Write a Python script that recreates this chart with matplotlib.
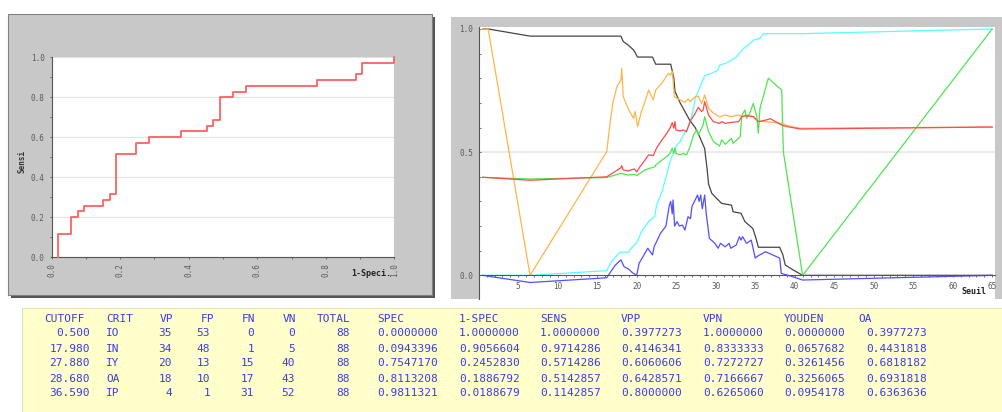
import numpy as np
import matplotlib
matplotlib.use("Agg")
import matplotlib.pyplot as plt
from matplotlib.patches import Rectangle

# ROC curve (1-Spec, Sens), drawn as steps
roc_fpr = [0.0189, 0.0566, 0.0755, 0.0943, 0.1509, 0.1698, 0.1887, 0.2453, 0.2830, 0.3774,
           0.4528, 0.4717, 0.4906, 0.5283, 0.5660, 0.7736, 0.8868, 0.9057, 1.0, 1.0]
roc_tpr = [0.0, 0.114, 0.200, 0.229, 0.257, 0.286, 0.314, 0.514, 0.571, 0.600,
           0.629, 0.657, 0.686, 0.800, 0.829, 0.857, 0.886, 0.914, 0.971, 1.0]

# criteria vs threshold (Seuil)
sens_t = [0.5, 1.2, 6.5, 18.0, 18.3, 18.9, 19.6, 20.1, 22.0, 22.4, 24.3, 24.5, 24.7, 24.85, 25.5,
          26.1, 26.7, 27.4, 28.0, 28.6, 28.9, 29.1, 29.5, 30.1, 30.75, 32.0, 32.2, 33.2, 33.7,
          34.7, 35.1, 35.4, 38.1, 38.5, 38.8, 39.8, 41.0, 65.0]
sens_v = [1.0, 1.0, 0.971, 0.971, 0.949, 0.935, 0.915, 0.886, 0.886, 0.857, 0.857, 0.83, 0.80, 0.746,
          0.70, 0.665, 0.63, 0.60, 0.56, 0.515, 0.434, 0.37, 0.333, 0.313, 0.292, 0.285, 0.258,
          0.252, 0.218, 0.19, 0.15, 0.114, 0.114, 0.083, 0.042, 0.022, 0.0, 0.0]

spec_t = [0.5, 6.5, 16.2, 16.8, 17.9, 18.9, 19.4, 20.0, 20.6, 21.5, 22.3, 22.5, 23.2, 23.8, 24.2,
          24.6, 24.85, 25.5, 25.9, 26.5, 26.75, 27.2, 27.4, 27.9, 28.6, 29.5, 30.3, 30.5, 31.2,
          31.8, 32.65, 33.1, 33.5, 33.9, 34.3, 34.8, 35.6, 36.0, 36.6, 41.0, 65.0]
spec_v = [0.0, 0.0, 0.019, 0.056, 0.094, 0.094, 0.113, 0.132, 0.177, 0.218, 0.24, 0.283, 0.34, 0.41,
          0.46, 0.495, 0.52, 0.543, 0.57, 0.6, 0.62, 0.68, 0.72, 0.755, 0.811, 0.82, 0.834, 0.854,
          0.86, 0.87, 0.888, 0.906, 0.92, 0.93, 0.94, 0.955, 0.962, 0.98, 0.981, 0.981, 1.0]

youden_t = [0.5, 6.5, 16.2, 17.25, 18.0, 18.4, 19.0, 19.44, 20.0, 20.3, 20.8, 21.4, 22.0, 22.2, 23.0,
            23.7, 24.1, 24.3, 24.5, 24.6, 24.8, 25.1, 25.4, 25.8, 26.1, 26.5, 26.8, 27.0, 27.4,
            27.7, 27.9, 28.1, 28.3, 28.6, 28.8, 29.2, 29.9, 30.3, 30.6, 31.2, 31.7, 31.9, 32.6,
            33.0, 33.2, 33.4, 33.9, 34.5, 35.0, 35.2, 36.3, 38.1, 38.3, 39.7, 41.0, 65.0]
youden_v = [0.0, -0.029, -0.01, 0.04, 0.063, 0.035, 0.025, 0.011, 0.0, 0.049, 0.076, 0.11, 0.083,
            0.116, 0.17, 0.2, 0.28, 0.30, 0.25, 0.306, 0.2, 0.218, 0.2, 0.204, 0.184, 0.238, 0.23,
            0.28, 0.306, 0.326, 0.30, 0.326, 0.27, 0.326, 0.25, 0.15, 0.13, 0.11, 0.13, 0.116,
            0.13, 0.11, 0.123, 0.157, 0.143, 0.157, 0.13, 0.143, 0.07, 0.076, 0.096, 0.07, 0.008,
            -0.005, -0.019, 0.0]

oa_t = [0.5, 6.5, 16.2, 17.25, 18.0, 18.1, 18.3, 18.9, 19.7, 20.0, 20.4, 21.05, 21.5, 22.1, 22.5,
        23.2, 23.8, 24.2, 24.5, 24.7, 24.85, 24.97, 25.5, 25.9, 26.3, 26.75, 27.4, 27.8, 28.2,
        28.4, 28.6, 29.1, 29.7, 30.5, 30.75, 31.2, 32.0, 32.9, 33.3, 33.9, 34.76, 35.4, 36.45,
        36.9, 38.35, 39.0, 40.7, 65.0]
oa_v = [0.398, 0.386, 0.40, 0.421, 0.437, 0.445, 0.428, 0.424, 0.432, 0.42, 0.44, 0.468, 0.489,
        0.486, 0.516, 0.55, 0.576, 0.597, 0.62, 0.597, 0.624, 0.59, 0.586, 0.59, 0.583, 0.624,
        0.658, 0.682, 0.665, 0.67, 0.705, 0.65, 0.624, 0.617, 0.624, 0.617, 0.621, 0.624, 0.644,
        0.648, 0.644, 0.624, 0.631, 0.636, 0.61, 0.604, 0.594, 0.602]

vpn_t = [0.5, 1.2, 6.5, 16.2, 16.6, 17.0, 17.5, 18.0, 18.1, 18.3, 18.9, 19.6, 19.8, 20.1, 20.6,
         21.05, 21.5, 22.1, 22.4, 23.2, 24.0, 24.3, 24.5, 24.6, 24.76, 25.5, 26.1, 26.5, 26.75,
         27.4, 27.8, 28.2, 28.4, 28.6, 29.1, 29.7, 30.5, 31.2, 32.0, 32.9, 33.3, 33.9, 34.76,
         35.4, 36.45, 38.35, 39.0, 40.7, 65.0]
vpn_v = [1.0, 1.0, 0.0, 0.502, 0.61, 0.705, 0.766, 0.793, 0.84, 0.725, 0.678, 0.637, 0.665, 0.604,
         0.665, 0.705, 0.752, 0.712, 0.752, 0.78, 0.82, 0.813, 0.827, 0.793, 0.725, 0.712, 0.702,
         0.716, 0.705, 0.725, 0.727, 0.698, 0.712, 0.732, 0.678, 0.658, 0.644, 0.651, 0.644,
         0.651, 0.644, 0.651, 0.644, 0.624, 0.624, 0.617, 0.608, 0.597, 0.602]

vpp_t = [0.5, 6.5, 16.2, 17.25, 18.0, 18.9, 19.7, 20.0, 20.4, 21.05, 22.3, 22.4, 23.2, 23.8, 24.2,
         24.5, 24.7, 24.85, 24.97, 25.5, 25.9, 26.3, 26.75, 27.2, 27.6, 27.8, 28.2, 28.4, 28.6,
         29.1, 29.7, 30.5, 30.75, 31.2, 32.0, 32.2, 33.1, 33.3, 33.7, 33.9, 34.3, 34.76, 35.2,
         35.4, 35.6, 36.66, 38.35, 38.56, 41.0, 65.0]
vpp_v = [0.398, 0.391, 0.397, 0.407, 0.414, 0.407, 0.41, 0.405, 0.414, 0.428, 0.441, 0.448, 0.468,
         0.482, 0.495, 0.516, 0.495, 0.516, 0.495, 0.489, 0.495, 0.489, 0.522, 0.57, 0.59, 0.57,
         0.597, 0.61, 0.644, 0.583, 0.543, 0.525, 0.55, 0.532, 0.556, 0.536, 0.563, 0.65, 0.671,
         0.637, 0.658, 0.698, 0.644, 0.576, 0.678, 0.80, 0.752, 0.502, 0.0, 1.0]

# table under the charts
headers = ["CUTOFF", "CRIT", "VP", "FP", "FN", "VN", "TOTAL", "SPEC", "1-SPEC", "SENS",
           "VPP", "VPN", "YOUDEN", "OA"]
cutoff = [0.5, 17.98, 27.88, 28.68, 36.59]
crit = ["IO", "IN", "IY", "OA", "IP"]
vp = [35, 34, 20, 18, 4]
fp = [53, 48, 13, 10, 1]
fn = [0, 1, 15, 17, 31]
vn = [0, 5, 40, 43, 52]
total = [88, 88, 88, 88, 88]
spec = [0.0, 0.0943396, 0.7547170, 0.8113208, 0.9811321]
one_spec = [1.0, 0.9056604, 0.2452830, 0.1886792, 0.0188679]
sens = [1.0, 0.9714286, 0.5714286, 0.5142857, 0.1142857]
vpp = [0.3977273, 0.4146341, 0.6060606, 0.6428571, 0.8]
vpn = [1.0, 0.8333333, 0.7272727, 0.7166667, 0.6265060]
youden = [0.0, 0.0657682, 0.3261456, 0.3256065, 0.0954178]
oa = [0.3977273, 0.4431818, 0.6818182, 0.6931818, 0.6363636]

plt.rcParams["font.family"] = "DejaVu Sans Mono"

W, H = 1003, 412
fig = plt.figure(figsize=(W / 100, H / 100), dpi=100)


def box(l, t, r, b):
    return [l / W, 1 - b / H, (r - l) / W, (b - t) / H]


# background panels
bg = fig.add_axes([0, 0, 1, 1])
bg.set_xlim(0, W)
bg.set_ylim(H, 0)
bg.axis("off")
bg.add_patch(Rectangle((11.5, 17), 424, 281, fc="#555555", ec="none"))
bg.add_patch(Rectangle((8.5, 14), 424, 281, fc="#c8c8c8", ec="#808080", lw=0.8))
bg.add_patch(Rectangle((450.7, 17), 553, 282, fc="#c8c8c8", ec="none"))
bg.add_patch(Rectangle((21.7, 307.7), 982, 105, fc="#ffffcc", ec="#e2e2b4", lw=0.8))

# table text
tcol = "#3a3aee"
hx = [44, 106, 160, 201, 242, 283, 317, 377, 459, 540, 621, 703, 784, 858]
for x, h in zip(hx, headers):
    bg.text(x, 319.5, h, ha="left", va="center", fontsize=8, color=tcol)
row_y = [333.5, 348.5, 363.5, 378.5, 393.5]
for i, y in enumerate(row_y):
    bg.text(90, y, f"{cutoff[i]:.3f}", ha="right", va="center", fontsize=8, color=tcol)
    bg.text(106, y, crit[i], ha="left", va="center", fontsize=8, color=tcol)
    for x, col in zip([172, 210, 254, 295, 350], [vp, fp, fn, vn, total]):
        bg.text(x, y, str(col[i]), ha="right", va="center", fontsize=8, color=tcol)
    for x, col in zip([377, 459, 540, 621, 703, 784, 866],
                      [spec, one_spec, sens, vpp, vpn, youden, oa]):
        bg.text(x, y, f"{col[i]:.7f}", ha="left", va="center", fontsize=8, color=tcol)

tick_col = "#5a5a5a"

# left: ROC curve
ax1 = fig.add_axes(box(51.7, 57.3, 394.3, 257.3))
ax1.step(roc_fpr, roc_tpr, where="pre", color="#ff6060", lw=1.3, clip_on=False, zorder=3)
ax1.set_xlim(0, 1)
ax1.set_ylim(0, 1)
ax1.set_xticks(np.arange(0, 1.01, 0.2))
ax1.set_xticklabels([f"{v:.1f}" for v in np.arange(0, 1.01, 0.2)], rotation=90)
ax1.set_yticks(np.arange(0, 1.01, 0.2))
ax1.set_yticklabels([f"{v:.1f}" for v in np.arange(0, 1.01, 0.2)])
ax1.set_xticks(np.arange(0, 1.01, 0.1), minor=True)
ax1.set_yticks(np.arange(0, 1.01, 0.1), minor=True)
ax1.yaxis.grid(True, color="#e2e2e2", lw=0.8)
ax1.set_axisbelow(True)
ax1.tick_params(which="both", direction="out", length=1.5, width=0.6, color=tick_col,
                labelsize=5.5, labelcolor=tick_col)
ax1.tick_params(axis="y", pad=3.5)
ax1.tick_params(axis="x", pad=2.7)
for s in ["top", "right"]:
    ax1.spines[s].set_visible(False)
for s in ["left", "bottom"]:
    ax1.spines[s].set_color("#555555")
    ax1.spines[s].set_linewidth(0.8)

# right: criteria vs threshold
ax2 = fig.add_axes(box(478.7, 27, 994.6, 299))
ax2.axhline(0.5, color="#ebebeb", lw=1.5, zorder=0)
ax2.plot(spec_t, spec_v, color="#55ffff", lw=0.9)
ax2.plot(sens_t, sens_v, color="#454545", lw=0.9)
ax2.plot(youden_t, youden_v, color="#5050ff", lw=0.9)
ax2.plot(vpp_t, vpp_v, color="#4ee64e", lw=0.9)
ax2.plot(vpn_t, vpn_v, color="#ffb449", lw=0.9)
ax2.plot(oa_t, oa_v, color="#ff4a4a", lw=0.9)
ax2.set_xlim(0, 65.3)
ax2.set_ylim(-0.096, 1.008)
ax2.set_xticks(np.arange(5, 66, 5))
ax2.set_xticklabels([str(v) for v in range(5, 66, 5)], rotation=90)
ax2.set_xticks(np.arange(1, 66, 1), minor=True)
ax2.set_yticks([0, 0.5, 1.0])
ax2.set_yticklabels(["0.0", "0.5", "1.0"])
ax2.set_yticks(np.arange(0, 1.01, 0.1), minor=True)
ax2.tick_params(axis="x", which="both", direction="out", length=1.5, width=0.6,
                color=tick_col, labelsize=5.5, labelcolor=tick_col, pad=3.4)
ax2.tick_params(axis="y", which="both", direction="in", length=1.5, width=0.6,
                color=tick_col, labelsize=5.5, labelcolor=tick_col, pad=4.1)
ax2.spines["bottom"].set_position(("data", 0))
for s in ["top", "right"]:
    ax2.spines[s].set_visible(False)
for s in ["left", "bottom"]:
    ax2.spines[s].set_color("#555555")
    ax2.spines[s].set_linewidth(0.8)

# axis titles
fig.text(22.5 / W, 1 - 161 / H, "Sensi", rotation=90, ha="center", va="center",
         fontsize=5.5, weight="bold", color="#333333")
fig.text(371 / W, 1 - 273 / H, "1-Speci.", ha="center", va="center",
         fontsize=6, weight="bold", color="#222222")
fig.text(974 / W, 1 - 291.5 / H, "Seuil", ha="center", va="center",
         fontsize=6, weight="bold", color="#222222")

fig.savefig("out.png", dpi=100)
